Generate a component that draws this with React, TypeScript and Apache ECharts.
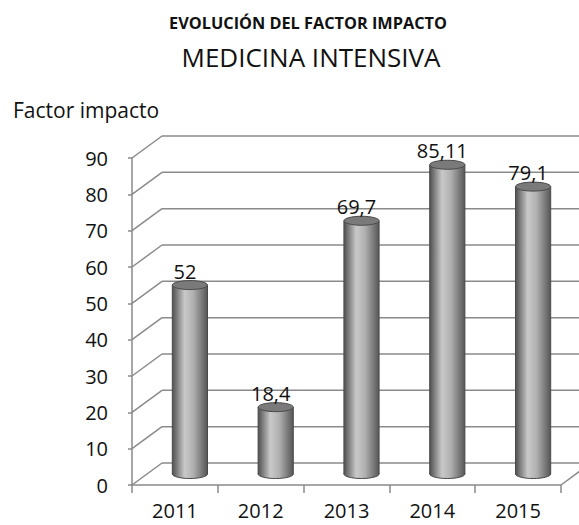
import React, { useEffect, useRef } from "react";
import * as echarts from "echarts";

const categories = ["2011", "2012", "2013", "2014", "2015"];
const values = [52, 18.4, 69.7, 85.11, 79.1];
const yTicks = [0, 10, 20, 30, 40, 50, 60, 70, 80, 90];
const yMax = 90;
const yInterval = 10;

const titleLine1 = "EVOLUCIÓN DEL FACTOR IMPACTO";
const titleLine2 = "MEDICINA INTENSIVA";
const yName = "Factor impacto";

const FONT = "'Open Sans', 'Noto Sans', sans-serif";
const DX = 30;
const DY = 22;
const GRID_COLOR = "#8a8a8a";
const TEXT_COLOR = "#111111";

export default function App() {
  const ref = useRef<HTMLDivElement>(null);
  useEffect(() => {
    document.body.style.margin = "0";
    const chart = echarts.init(ref.current!, null, { renderer: "svg" });
    const barGrad = () =>
      new echarts.graphic.LinearGradient(0, 0, 1, 0, [
        { offset: 0, color: "#505050" },
        { offset: 0.35, color: "#c9c9c9" },
        { offset: 0.6, color: "#b0b0b0" },
        { offset: 1, color: "#565656" },
      ]);
    chart.setOption({
      animation: false,
      backgroundColor: "#ffffff",
      grid: { left: 132, top: 158, width: 429, height: 327, outerBoundsMode: "none" },
      graphic: [
        {
          type: "text",
          x: 308,
          y: 23,
          style: {
            text: titleLine1,
            align: "center",
            verticalAlign: "middle",
            fontFamily: FONT,
            fontWeight: "bold",
            fontSize: 16.3,
            fill: TEXT_COLOR,
          },
        },
        {
          type: "text",
          x: 311,
          y: 57,
          style: {
            text: titleLine2,
            align: "center",
            verticalAlign: "middle",
            fontFamily: FONT,
            fontSize: 26,
            fill: TEXT_COLOR,
          },
        },
        {
          type: "text",
          x: 13,
          y: 110,
          style: {
            text: yName,
            align: "left",
            verticalAlign: "middle",
            fontFamily: FONT,
            fontSize: 21,
            fill: TEXT_COLOR,
          },
        },
      ],
      xAxis: {
        type: "category",
        data: categories,
        axisLine: { show: true, lineStyle: { color: GRID_COLOR, width: 1.5 } },
        axisTick: { show: true, length: 8, lineStyle: { color: GRID_COLOR, width: 1.5 } },
        axisLabel: {
          fontFamily: FONT,
          fontSize: 20,
          lineHeight: 20,
          color: TEXT_COLOR,
          margin: 15,
        },
        splitLine: { show: false },
      },
      yAxis: {
        type: "value",
        min: 0,
        max: yMax,
        interval: yInterval,
        axisLine: { show: true, lineStyle: { color: GRID_COLOR, width: 1.5 } },
        axisTick: { show: true, length: 4, lineStyle: { color: GRID_COLOR, width: 1.5 } },
        axisLabel: { fontFamily: FONT, fontSize: 20, color: TEXT_COLOR, margin: 24 },
        splitLine: { show: false },
      },
      series: [
        {
          type: "custom",
          z: 1,
          silent: true,
          data: yTicks.map((v) => [0, v]),
          encode: { x: 0, y: 1 },
          renderItem: (params: any, api: any) => {
            const v = api.value(1);
            const p = api.coord([0, v]);
            const cs = params.coordSys;
            const x0 = cs.x;
            const y = p[1];
            const style = { stroke: GRID_COLOR, lineWidth: 1.5 };
            const children: any[] = [
              { type: "line", shape: { x1: x0, y1: y, x2: x0 + DX, y2: y - DY }, style },
              {
                type: "line",
                shape: { x1: x0 + DX, y1: y - DY, x2: x0 + cs.width + DX, y2: y - DY },
                style,
              },
            ];
            if (v === 0) {
              children.push({
                type: "line",
                shape: { x1: x0 + cs.width, y1: y, x2: x0 + cs.width + DX, y2: y - DY },
                style,
              });
            }
            return { type: "group", children };
          },
        },
        {
          type: "custom",
          z: 2,
          data: values.map((v, i) => [i, v]),
          encode: { x: 0, y: 1 },
          renderItem: (params: any, api: any) => {
            const i = api.value(0);
            const v = api.value(1);
            const top = api.coord([i, v]);
            const base = api.coord([i, 0]);
            const band = api.size([1, 0])[0];
            const w = band * 0.41;
            const rx = w / 2;
            const ry = 4.5;
            const cx = top[0] + DX / 2;
            const yT = top[1] - DY / 2;
            const yB = base[1] - DY / 2;
            const label = String(v).replace(".", ",");
            return {
              type: "group",
              children: [
                {
                  type: "ellipse",
                  shape: { cx, cy: yB, rx, ry },
                  style: { fill: barGrad(), stroke: "#4a4a4a", lineWidth: 1 },
                },
                {
                  type: "rect",
                  shape: { x: cx - rx, y: yT, width: w, height: yB - yT },
                  style: { fill: barGrad() },
                },
                {
                  type: "line",
                  shape: { x1: cx - rx, y1: yT, x2: cx - rx, y2: yB },
                  style: { stroke: "#4a4a4a", lineWidth: 1 },
                },
                {
                  type: "line",
                  shape: { x1: cx + rx, y1: yT, x2: cx + rx, y2: yB },
                  style: { stroke: "#4a4a4a", lineWidth: 1 },
                },
                {
                  type: "ellipse",
                  shape: { cx, cy: yT, rx, ry },
                  style: { fill: "#7a7a7a", stroke: "#4a4a4a", lineWidth: 1 },
                },
                {
                  type: "text",
                  style: {
                    text: label,
                    x: cx - 5,
                    y: yT - 14,
                    align: "center",
                    verticalAlign: "middle",
                    fontFamily: FONT,
                    fontSize: 20,
                    fill: TEXT_COLOR,
                  },
                },
              ],
            };
          },
        },
      ],
    });
    return () => chart.dispose();
  }, []);
  return (
    <div
      ref={ref}
      style={{ position: "absolute", left: 0, top: 0, width: 579, height: 525 }}
    />
  );
}
